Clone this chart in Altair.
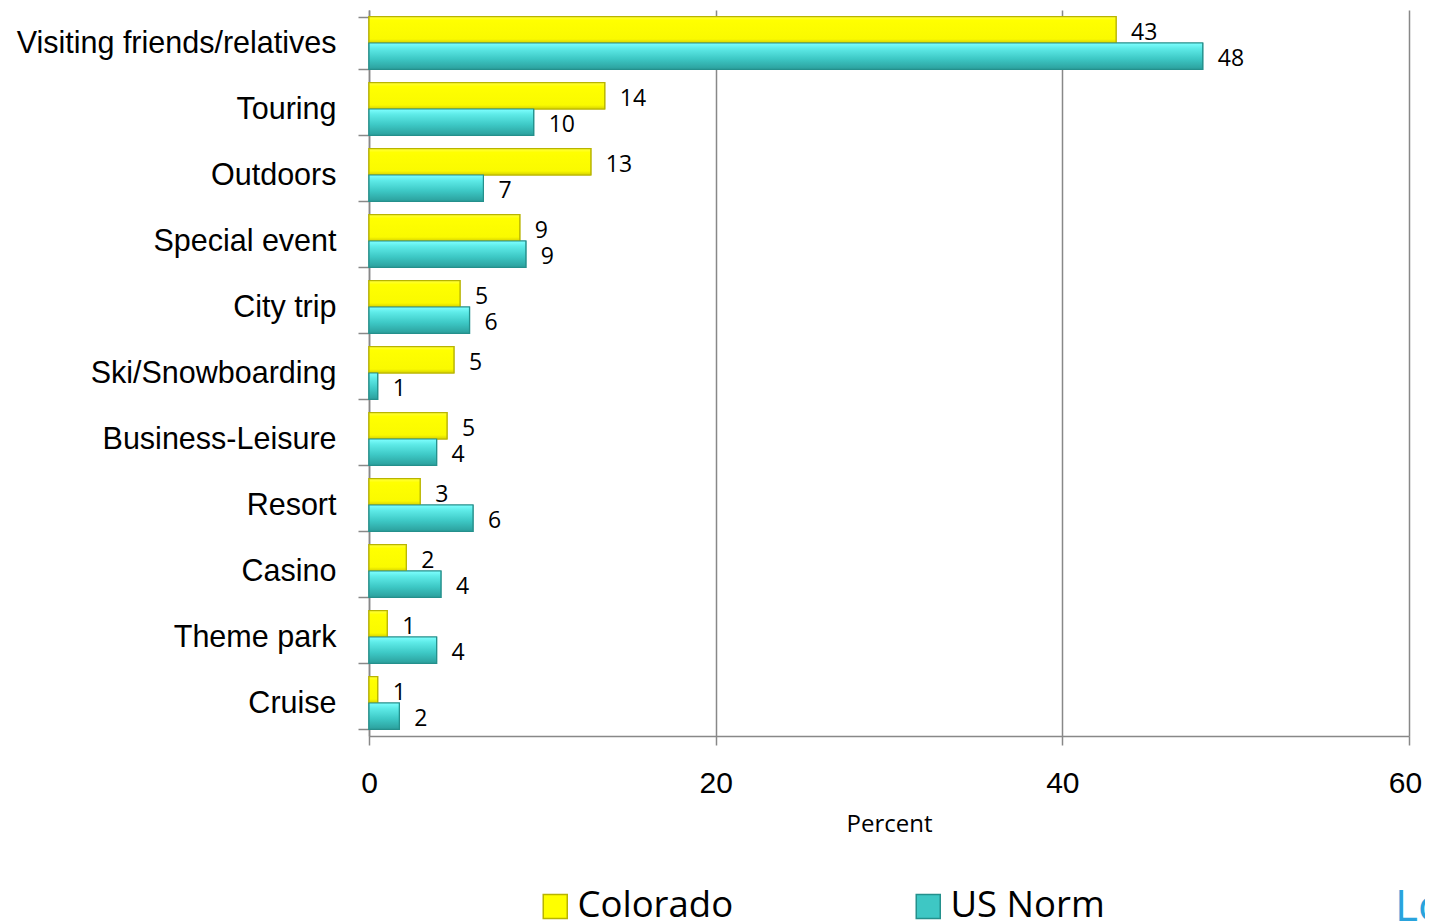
import altair as alt
import pandas as pd

categories = ["Visiting friends/relatives", "Touring", "Outdoors", "Special event",
              "City trip", "Ski/Snowboarding", "Business-Leisure", "Resort",
              "Casino", "Theme park", "Cruise"]
colorado = [43.1, 13.6, 12.8, 8.7, 5.25, 4.9, 4.5, 2.95, 2.15, 1.05, 0.5]
us_norm = [48.1, 9.5, 6.6, 9.05, 5.8, 0.5, 3.9, 6.0, 4.15, 3.9, 1.75]
colorado_labels = [43, 14, 13, 9, 5, 5, 5, 3, 2, 1, 1]
us_norm_labels = [48, 10, 7, 9, 6, 1, 4, 6, 4, 4, 2]
series = ["Colorado", "US Norm"]
x_ticks = [0, 20, 40, 60]

rows = []
for i, c in enumerate(categories):
    rows.append({"Activity": c, "Series": series[0], "Value": colorado[i], "Label": str(colorado_labels[i])})
    rows.append({"Activity": c, "Series": series[1], "Value": us_norm[i], "Label": str(us_norm_labels[i])})
df = pd.DataFrame(rows)

narrow = "Liberation Sans, Arial, sans-serif"
calib = "Open Sans, Noto Sans, Liberation Sans, sans-serif"

y_enc = alt.Y("Activity:N", sort=categories,
              scale=alt.Scale(paddingInner=0.2, paddingOuter=0.1),
              axis=alt.Axis(title=None, labelFont=narrow, labelFontSize=30.5, labelColor="black",
                            labelPadding=22, tickSize=11, tickColor="#888888", tickWidth=1.5,
                            domainColor="#888888", domainWidth=1.5, tickBand="extent",
                            labelLimit=400))
x_enc = alt.X("Value:Q",
              scale=alt.Scale(domain=[0, 60], nice=False),
              axis=alt.Axis(title="Percent", values=x_ticks, format="d", labelFlush=False,
                            labelOffset=alt.ExprRef(expr="datum.value == 60 ? -4 : 0"),
                            labelFont="Liberation Sans, Arial, sans-serif", labelFontSize=30,
                            labelColor="black", labelPadding=23, tickSize=9,
                            tickColor="#888888", tickWidth=1.5, domainColor="#888888",
                            domainWidth=1.5, grid=True, gridColor="#888888", gridWidth=1.5,
                            titleFont=calib, titleFontSize=24, titleFontWeight="normal",
                            titleColor="black", titlePadding=14))
yoff = alt.YOffset("Series:N", sort=series)

base_bars = alt.Chart(df).mark_bar(strokeWidth=1.2).encode(
    y=y_enc, x=x_enc, yOffset=yoff,
    color=alt.Color("Series:N", sort=series,
                    scale=alt.Scale(domain=series, range=["#FFFF00", "#3EC7C4"]),
                    legend=alt.Legend(title=None, orient="none", direction="horizontal",
                                      legendX=168, legendY=878, symbolType="square",
                                      symbolSize=576, symbolStrokeWidth=1.5,
                                      labelFont=calib, labelFontSize=36.5, labelColor="black",
                                      labelOffset=4, columnPadding=176, labelLimit=400)),
    stroke=alt.Stroke("Series:N", sort=series,
                      scale=alt.Scale(domain=series, range=["#B8B400", "#24908C"]),
                      legend=None),
)

yellow_grad = alt.LinearGradient(gradient="linear", x1=0, y1=0, x2=0, y2=1, stops=[
    alt.GradientStop(offset=0, color="#FFFF40"),
    alt.GradientStop(offset=0.15, color="#FFFF00"),
    alt.GradientStop(offset=0.85, color="#FAFA00"),
    alt.GradientStop(offset=1, color="#D6D200")])
teal_grad = alt.LinearGradient(gradient="linear", x1=0, y1=0, x2=0, y2=1, stops=[
    alt.GradientStop(offset=0, color="#7FFFFF"),
    alt.GradientStop(offset=0.2, color="#5EEBE8"),
    alt.GradientStop(offset=0.6, color="#3DC8C5"),
    alt.GradientStop(offset=1, color="#2B9F9C")])

grad_y = alt.Chart(df).transform_filter(alt.datum.Series == series[0]).mark_bar(
    color=yellow_grad, stroke="#B8B400", strokeWidth=1.2).encode(
    y=alt.Y("Activity:N", sort=categories), x="Value:Q", yOffset=yoff)
grad_t = alt.Chart(df).transform_filter(alt.datum.Series == series[1]).mark_bar(
    color=teal_grad, stroke="#24908C", strokeWidth=1.2).encode(
    y=alt.Y("Activity:N", sort=categories), x="Value:Q", yOffset=yoff)

labels = alt.Chart(df).mark_text(align="left", baseline="middle", dx=15, dy=3,
                                 font=calib, fontSize=23, color="black").encode(
    y=alt.Y("Activity:N", sort=categories), x="Value:Q", yOffset=yoff, text="Label:N")

logo = alt.Chart(pd.DataFrame({"t": ["Lo"]})).mark_text(
    align="left", baseline="top", font="Open Sans, sans-serif", fontSize=44,
    color="#2AA3DC").encode(text="t:N", x=alt.value(1026), y=alt.value(876))

chart = alt.layer(base_bars, grad_y, grad_t, labels, logo).properties(
    width=1040, height=726,
    autosize=alt.AutoSizeParams(type="none"),
    padding={"left": 361, "top": 2, "right": 16, "bottom": 200},
).configure_view(stroke=None)

chart.save("out.html", embed_options={"renderer": "svg", "actions": False})
